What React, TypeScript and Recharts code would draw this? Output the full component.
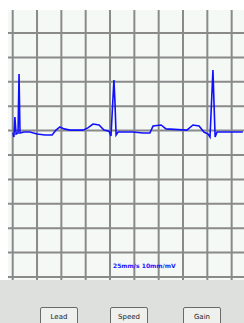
import React from "react";
import { LineChart, Line, XAxis, YAxis, ReferenceLine } from "recharts";

// time in big squares (0.2 s each), amplitude in big squares (0.5 mV each)
const times = [
  0.01, 0.05, 0.09, 0.14, 0.22, 0.26, 0.3, 0.46, 0.71, 1.0, 1.33, 1.62, 1.78, 1.94,
  2.11, 2.36, 2.89, 3.09, 3.3, 3.55, 3.75, 3.96, 4.04, 4.16, 4.2, 4.25, 4.33, 4.94,
  5.36, 5.64, 5.77, 6.1, 6.3, 7.16, 7.41, 7.66, 7.86, 8.03, 8.11, 8.23, 8.32, 8.4, 9.46,
];
const amplitudes = [
  -0.1, -0.26, 0.56, -0.14, -0.1, 2.32, -0.1, -0.06, -0.06, -0.14, -0.18, -0.18, 0.02, 0.15,
  0.07, 0.02, 0.02, 0.11, 0.27, 0.23, 0.02, -0.02, -0.22, 2.07, 1.25, -0.18, -0.06, -0.06,
  -0.1, -0.1, 0.19, 0.23, 0.07, 0.02, 0.23, 0.19, -0.06, -0.14, -0.26, 2.48, -0.26, -0.06, -0.06,
];
const xDomain = [-0.193, 9.507];
const yDomain = [-6.123, 4.943];
const xTicks = [0, 1, 2, 3, 4, 5, 6, 7, 8, 9];
const yTicks = [-6, -5, -4, -3, -2, -1, 0, 1, 2, 3, 4];
const scaleLabel = "25mm/s 10mm/mV";
const buttons = ["Lead", "Speed", "Gain"];

const data = times.map((t, i) => ({ t, v: amplitudes[i] }));

export default function App() {
  return (
    <div
      style={{
        position: "fixed",
        left: 0,
        top: 0,
        width: 244,
        height: 323,
        overflow: "hidden",
        background: "#ffffff",
        fontFamily: "DejaVu Sans, sans-serif",
      }}
    >
      <div style={{ position: "absolute", left: 8, top: 10, width: 236, height: 270, background: "#f5f9f6" }}>
        <LineChart width={236} height={270} data={data} margin={{ top: 0, right: 0, bottom: 0, left: 0 }}>
          <XAxis type="number" dataKey="t" domain={xDomain} ticks={xTicks} hide />
          <YAxis type="number" domain={yDomain} ticks={yTicks} hide />
          {xTicks.map((t) => (
            <ReferenceLine key={"x" + t} x={t} stroke="#8a8a8a" strokeWidth={2} />
          ))}
          {yTicks.map((t) => (
            <ReferenceLine key={"y" + t} y={t} stroke="#8a8a8a" strokeWidth={2} />
          ))}
          <Line
            type="linear"
            dataKey="v"
            stroke="#1010ff"
            strokeWidth={1.6}
            dot={false}
            isAnimationActive={false}
          />
        </LineChart>
        <div
          style={{
            position: "absolute",
            left: 105,
            top: 252,
            fontSize: 6,
            fontWeight: "bold",
            color: "#1818ff",
            whiteSpace: "nowrap",
          }}
        >
          {scaleLabel}
        </div>
      </div>
      <div style={{ position: "absolute", left: 0, top: 280, width: 244, height: 43, background: "#dde0dd" }} />
      {buttons.map((b, i) => (
        <div
          key={b}
          style={{
            position: "absolute",
            left: [40, 110, 183][i],
            top: 307,
            width: 38,
            height: 22,
            boxSizing: "border-box",
            border: "1px solid #6a6a6a",
            borderRadius: 2,
            background: "#eef0ee",
            fontSize: 7,
            color: "#222",
            textAlign: "center",
            paddingTop: 5,
          }}
        >
          {b}
        </div>
      ))}
    </div>
  );
}
